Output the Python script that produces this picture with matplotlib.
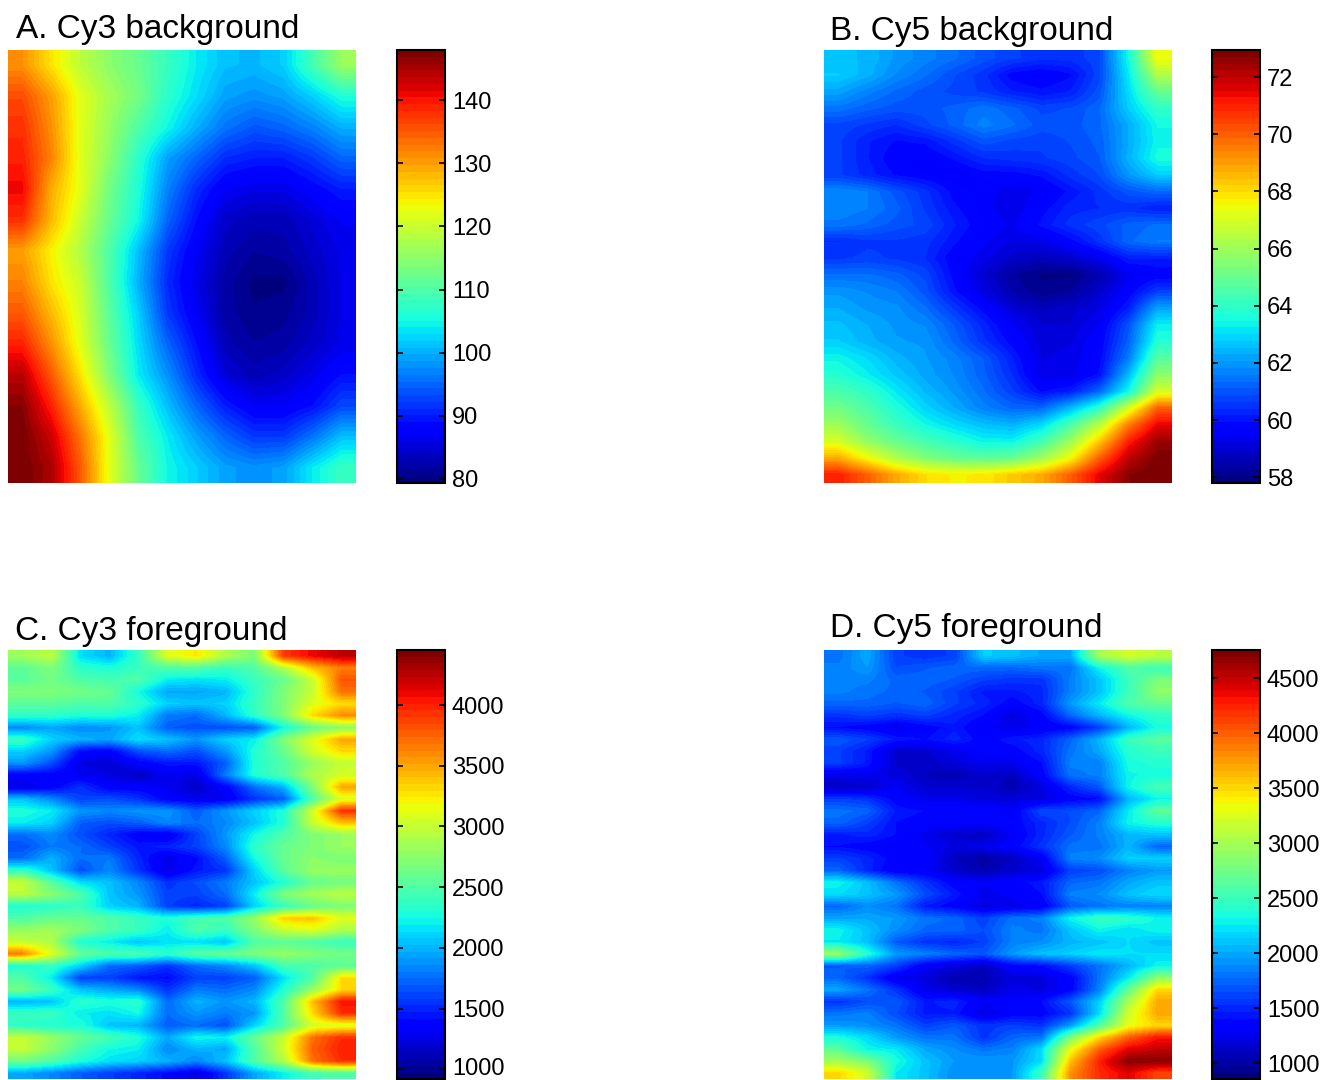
import numpy as np
import matplotlib
matplotlib.use("Agg")
import matplotlib.pyplot as plt
from matplotlib.transforms import ScaledTranslation

plt.rcParams["font.family"] = ["Liberation Sans", "DejaVu Sans"]

#-----------------------------------------------------------------------
# Values, rows from top to bottom
#-----------------------------------------------------------------------
cy3_background = [
    [131, 125, 119, 115, 112, 108, 104, 101, 100.5, 102, 109, 116],
    [136, 130, 122, 117, 113, 107, 103, 99, 98, 99, 102, 106],
    [138, 131, 122, 116, 110, 105, 100, 96, 94, 95, 97, 100],
    [139, 132, 122, 115, 107, 99, 95, 91, 90, 90, 92, 95],
    [141, 129, 122, 113, 106, 97, 91, 87, 86, 86, 88, 90],
    [138, 128, 120, 112, 105, 95, 89, 84, 83, 83, 85, 87],
    [130, 124, 118, 110, 101, 92, 87, 83, 81.5, 82, 84, 86],
    [132, 125, 120, 110, 100, 91, 86, 82, 80, 80, 83, 86],
    [135, 128, 121, 111, 102, 92, 87, 82, 80.5, 81, 83, 86],
    [139, 131, 122, 112, 103, 95, 89, 83, 81.5, 82, 84, 86],
    [144, 135, 125, 114, 104, 98, 91, 85, 83, 84, 86, 89],
    [147, 139, 129, 119, 108, 101, 95, 90, 87, 87, 89, 93],
    [148, 143, 133, 122, 110, 104, 99, 95, 92, 92, 96, 101],
    [148, 145, 135, 122, 112, 105, 102, 99, 98, 99, 104, 108],
]

cy5_background = [
    [62.6, 62.5, 62.0, 61.7, 61.4, 61.0, 60.7, 60.5, 60.5, 60.8, 63.5, 67.5],
    [62.8, 62.4, 61.8, 61.4, 60.9, 60.5, 59.8, 59.6, 59.9, 60.8, 63.2, 66.3],
    [62.2, 61.7, 61.3, 61.0, 60.8, 60.6, 60.2, 60.0, 60.2, 61, 63, 65],
    [61.5, 61.2, 61, 61, 61.2, 61.5, 61.2, 60.8, 60.9, 61.3, 62.8, 64],
    [60.8, 60.6, 60.4, 60.8, 61.2, 61.7, 61.4, 61, 61, 61.3, 62.3, 63.5],
    [60.7, 60.2, 59.9, 60.0, 60.5, 61, 60.8, 60.7, 60.9, 61.2, 62.3, 63.4],
    [60.7, 60.2, 59.7, 59.6, 60, 60.4, 60.5, 60.6, 60.8, 61.1, 62.4, 63.6],
    [60.7, 60.3, 59.9, 59.7, 59.5, 59.8, 59.8, 60, 60.5, 60.9, 62, 62.8],
    [61.8, 61.6, 61, 60.5, 59.8, 59.6, 59.3, 59.5, 60, 60.5, 61, 61.3],
    [61.8, 61.6, 61.2, 60.6, 60.0, 59.6, 59.2, 59.8, 60.3, 60.4, 60.5, 60.2],
    [61.5, 61.3, 61, 60.8, 60.2, 59.7, 59.4, 60, 60.5, 60.8, 61.2, 61.4],
    [60.4, 60.6, 60.6, 60.5, 60, 59.5, 59.2, 59.3, 59.8, 60.5, 61.3, 61.6],
    [60.6, 60.7, 60.6, 60.4, 59.7, 59.3, 58.9, 58.7, 58.9, 59.4, 60.2, 60.2],
    [61.4, 61.4, 61.2, 60.8, 59.8, 59.0, 58.3, 58, 58, 58.5, 59.4, 59.7],
    [62, 61.8, 61.6, 61, 60, 59.2, 58.5, 58.1, 58.3, 58.9, 59.7, 60.7],
    [62.3, 62, 61.9, 61.4, 60.6, 59.8, 59, 58.7, 58.9, 59.2, 60.2, 62.2],
    [62.6, 62.3, 62, 61.8, 61.1, 60.3, 59.5, 59, 59, 59.5, 61, 63.3],
    [62.8, 62.4, 62.1, 62, 61.3, 60.5, 59.8, 59.1, 59.2, 59.7, 61.2, 63.8],
    [63.4, 63, 62.4, 62.1, 61.7, 61.1, 60.2, 59.2, 59.3, 59.8, 61.6, 64.7],
    [63.8, 63.3, 62.7, 62.2, 61.8, 61.2, 60.4, 59.3, 59.3, 60, 62.5, 65.7],
    [64.5, 64, 63.2, 62.5, 62, 61.4, 60.7, 59.9, 60.2, 61.3, 63.5, 67],
    [65.2, 64.5, 63.7, 62.9, 62.3, 61.7, 61.3, 61.3, 62.5, 64, 67, 70],
    [66, 65, 64.2, 63.5, 63, 62.6, 62.4, 63, 64.5, 66.5, 69.5, 71.5],
    [67, 65.8, 65, 64.4, 63.9, 63.4, 63.4, 64.3, 66, 68.3, 71, 72.5],
    [68.8, 67.5, 66.3, 65.5, 65, 64.8, 65, 66, 67.5, 70, 72, 72.9],
    [71, 70, 68.8, 68, 67.7, 67.8, 68.3, 68.8, 70, 71.5, 72.7, 72.95],
]

cy3_foreground = [
    [2850, 2950, 2150, 2000, 2400, 3100, 3250, 2900, 2700, 3900, 4100, 4250],
    [2550, 2700, 2350, 2300, 2400, 2500, 2500, 2400, 2500, 2900, 3400, 3650],
    [2550, 2650, 2500, 2450, 2500, 2200, 2150, 2200, 2400, 2600, 3000, 3800],
    [2700, 2700, 2650, 2600, 2250, 1950, 1950, 2000, 2350, 2700, 3000, 3700],
    [2550, 2550, 2500, 2500, 2350, 2100, 2050, 2100, 2400, 2700, 3100, 3300],
    [2350, 2350, 2300, 2300, 2200, 1800, 1750, 2000, 2350, 2700, 3300, 3600],
    [1850, 1950, 1850, 1900, 2050, 1700, 1650, 1650, 1700, 2250, 2600, 2750],
    [2400, 2100, 2000, 1950, 2150, 2050, 1900, 2100, 2200, 2700, 3100, 3500],
    [2100, 1900, 1400, 1350, 1650, 1750, 1650, 1900, 2300, 2600, 3050, 3300],
    [1900, 1650, 1250, 1200, 1350, 1450, 1450, 1700, 2300, 2500, 2800, 3000],
    [1350, 1350, 1300, 1250, 1150, 1300, 1250, 1800, 2300, 2500, 2900, 3050],
    [1250, 1350, 1550, 1350, 1350, 1300, 1150, 1350, 1750, 2000, 2700, 3500],
    [2050, 1850, 1600, 1650, 1550, 1350, 1300, 1300, 1550, 1700, 2500, 3100],
    [2300, 2200, 1900, 1850, 1900, 1900, 1700, 1900, 2100, 2300, 3050, 3950],
    [2200, 2100, 1700, 1650, 1700, 1850, 1750, 1850, 2050, 2300, 3000, 3400],
    [1750, 1850, 1650, 1500, 1350, 1300, 1600, 1900, 2250, 2500, 2700, 2800],
    [1650, 1800, 1750, 1600, 1450, 1500, 1600, 1850, 2350, 2600, 2700, 2800],
    [1750, 2000, 1750, 1800, 1500, 1250, 1400, 1700, 2250, 2600, 2750, 2700],
    [2400, 2050, 1650, 1850, 1550, 1250, 1450, 1550, 2100, 2550, 2800, 2800],
    [3000, 2550, 2150, 2050, 1850, 1550, 1650, 1800, 2050, 2300, 2600, 2650],
    [2950, 2750, 2500, 2050, 1900, 1600, 1600, 1750, 2200, 2700, 2850, 2950],
    [2300, 2350, 2400, 2100, 2000, 1600, 1500, 1600, 2100, 2400, 2600, 2700],
    [2500, 2600, 2600, 2500, 2400, 2300, 2450, 2500, 2800, 3350, 3400, 3100],
    [2800, 2850, 2700, 2500, 2400, 2200, 2500, 2400, 2700, 3000, 3100, 2900],
    [3000, 2900, 2300, 2200, 2050, 2150, 2150, 2050, 2500, 2550, 2500, 2400],
    [3650, 3100, 2600, 2500, 2500, 2350, 2550, 2600, 2700, 2800, 2700, 2650],
    [2300, 2400, 2100, 1750, 1700, 1550, 1750, 1850, 2050, 2450, 2500, 2550],
    [2500, 2200, 1600, 1600, 1450, 1400, 1600, 1600, 1700, 2150, 2500, 3300],
    [2650, 2400, 2050, 1950, 1850, 1550, 1800, 1750, 1850, 2300, 2800, 3300],
    [2000, 2050, 2350, 2300, 2350, 1750, 2000, 1900, 2000, 2500, 3400, 4050],
    [2400, 2400, 2200, 2150, 2250, 1750, 1900, 1800, 1900, 2500, 3300, 3950],
    [2350, 2300, 2300, 2050, 2000, 1700, 1750, 1650, 2100, 2500, 3050, 3100],
    [3000, 2800, 2600, 2450, 2300, 1950, 2250, 2200, 2600, 3000, 3700, 3950],
    [3000, 2750, 2450, 2250, 2200, 1850, 2000, 1950, 2500, 3050, 3750, 4000],
    [2650, 2500, 2300, 2150, 2100, 2000, 1850, 2050, 2500, 2900, 3700, 3950],
    [1950, 1850, 1700, 1600, 1500, 1400, 1250, 1550, 1950, 2200, 2450, 2500],
]

cy5_foreground = [
    [1800, 2000, 1600, 1550, 1600, 2150, 2100, 2000, 2000, 3000, 3200, 3100],
    [1850, 1950, 1650, 1700, 1750, 1750, 1750, 1800, 1800, 2300, 2600, 2500],
    [1850, 1850, 1750, 1750, 1700, 1600, 1550, 1550, 1850, 2100, 2500, 2800],
    [1850, 1800, 1750, 1700, 1600, 1450, 1450, 1500, 1850, 2100, 2500, 2900],
    [1750, 1750, 1700, 1750, 1600, 1500, 1350, 1500, 1950, 2250, 2600, 2700],
    [1550, 1600, 1550, 1600, 1500, 1400, 1200, 1350, 1750, 2050, 2300, 2450],
    [1400, 1350, 1250, 1350, 1450, 1300, 1250, 1300, 1350, 1600, 2050, 2350],
    [1700, 1600, 1450, 1400, 1500, 1350, 1450, 1500, 1750, 2050, 2500, 2650],
    [1600, 1450, 1150, 1150, 1250, 1350, 1350, 1500, 1800, 2000, 2400, 2500],
    [1600, 1450, 1150, 1100, 1200, 1250, 1250, 1400, 1850, 1850, 2350, 2400],
    [1250, 1250, 1200, 1100, 1050, 1150, 1100, 1350, 1800, 1850, 2300, 2350],
    [1100, 1150, 1300, 1150, 1150, 1150, 1050, 1200, 1500, 1700, 2300, 2550],
    [1600, 1550, 1350, 1250, 1250, 1200, 1200, 1200, 1350, 1400, 2050, 2300],
    [1800, 1750, 1450, 1400, 1400, 1400, 1300, 1650, 1650, 1750, 2250, 2700],
    [1750, 1600, 1400, 1350, 1350, 1350, 1350, 1500, 1650, 1850, 2300, 2400],
    [1450, 1500, 1400, 1250, 1150, 1100, 1300, 1500, 1700, 1850, 2050, 2100],
    [1400, 1350, 1300, 1300, 1200, 1250, 1350, 1550, 1800, 1800, 2050, 1750],
    [1600, 1500, 1350, 1350, 1100, 1000, 1100, 1300, 1850, 1900, 2150, 2150],
    [1750, 1500, 1300, 1300, 1150, 1050, 1150, 1200, 1600, 1650, 1850, 1950],
    [2300, 2100, 1800, 1550, 1350, 1300, 1350, 1450, 1750, 1800, 2000, 2100],
    [2200, 2100, 1950, 1650, 1450, 1250, 1300, 1400, 1850, 1900, 2100, 2200],
    [1750, 1900, 1800, 1450, 1350, 1200, 1250, 1300, 1700, 1800, 1850, 1850],
    [2000, 2000, 1950, 1800, 1750, 1600, 1800, 1850, 2300, 2500, 2450, 2300],
    [2300, 2100, 1900, 1750, 1750, 1650, 1850, 1800, 2100, 2300, 2200, 2300],
    [2250, 2100, 1700, 1550, 1500, 1600, 1850, 1900, 2050, 2100, 2200, 2100],
    [2950, 2400, 1950, 1850, 1750, 1700, 1950, 2100, 2150, 2250, 2200, 2200],
    [1700, 1750, 1600, 1300, 1200, 1100, 1350, 1400, 1600, 1800, 2050, 2300],
    [1750, 1550, 1250, 1200, 1050, 1050, 1200, 1200, 1350, 1800, 2250, 2900],
    [2000, 1800, 1550, 1250, 1150, 1100, 1250, 1200, 1350, 1850, 2700, 3500],
    [1550, 1650, 1700, 1450, 1500, 1300, 1350, 1400, 1700, 2150, 3000, 3700],
    [1800, 1850, 1650, 1450, 1450, 1200, 1350, 1350, 1550, 2200, 3200, 3700],
    [1950, 1900, 1800, 1600, 1700, 1550, 1600, 1550, 1950, 2600, 3300, 3500],
    [2350, 2200, 1950, 1800, 1800, 1550, 1750, 1800, 2800, 3500, 4000, 4300],
    [2650, 2300, 2250, 2000, 1900, 1800, 1850, 2200, 3300, 4000, 4400, 4500],
    [3000, 2800, 2350, 2100, 1950, 1950, 1950, 2200, 3600, 4250, 4700, 4700],
    [3500, 3200, 2250, 2100, 1900, 1900, 1950, 2500, 3800, 4200, 4400, 4100],
]

titles = ["A. Cy3 background", "B. Cy5 background",
          "C. Cy3 foreground", "D. Cy5 foreground"]
panels = [cy3_background, cy5_background, cy3_foreground, cy5_foreground]
limits = [(79.3, 148), (57.8, 72.95), (920, 4453), (855, 4755)]
ticks = [
    [80, 90, 100, 110, 120, 130, 140],
    [58, 60, 62, 64, 66, 68, 70, 72],
    [1000, 1500, 2000, 2500, 3000, 3500, 4000],
    [1000, 1500, 2000, 2500, 3000, 3500, 4000, 4500],
]

W, H = 1324, 1080

# pixel boxes: image left, colorbar left, top, bottom, title x, title baseline
boxes = [
    (8, 397, 50, 483, 16, 38),
    (824, 1212, 50, 483, 830, 40),
    (8, 397, 650, 1079, 15, 640),
    (824, 1212, 650, 1079, 830, 637),
]


def add_axes_px(fig, left, top, width, height):
    return fig.add_axes([left / W, 1 - (top + height) / H, width / W, height / H])


def main():
    fig = plt.figure(figsize=(W / 100, H / 100), dpi=100)
    cmap = plt.get_cmap("jet", 64)

    for i in range(4):
        left, cb_left, top, bottom, tx, ty = boxes[i]
        ax = add_axes_px(fig, left, top, 348, bottom - top)
        im = ax.imshow(np.array(panels[i]), cmap=cmap, vmin=limits[i][0], vmax=limits[i][1],
                       aspect="auto", interpolation="bilinear")
        ax.axis("off")

        cax = add_axes_px(fig, cb_left, top, 48, bottom - top)
        cb = fig.colorbar(im, cax=cax)
        cb.set_ticks(ticks[i])
        cb.ax.tick_params(direction="in", left=True, right=True, length=4, width=1.2,
                          labelsize=17, pad=5)
        cb.outline.set_linewidth(1.5)

        # the lowest label of panel C sits right on the figure edge
        if i == 2:
            low = cb.ax.get_yticklabels()[0]
            low.set_transform(low.get_transform() + ScaledTranslation(0, 2 / 72, fig.dpi_scale_trans))

        fig.text(tx / W, 1 - ty / H, titles[i], fontsize=24, ha="left", va="baseline")

    fig.savefig("out.png", dpi=100)


if __name__ == "__main__":
    main()
